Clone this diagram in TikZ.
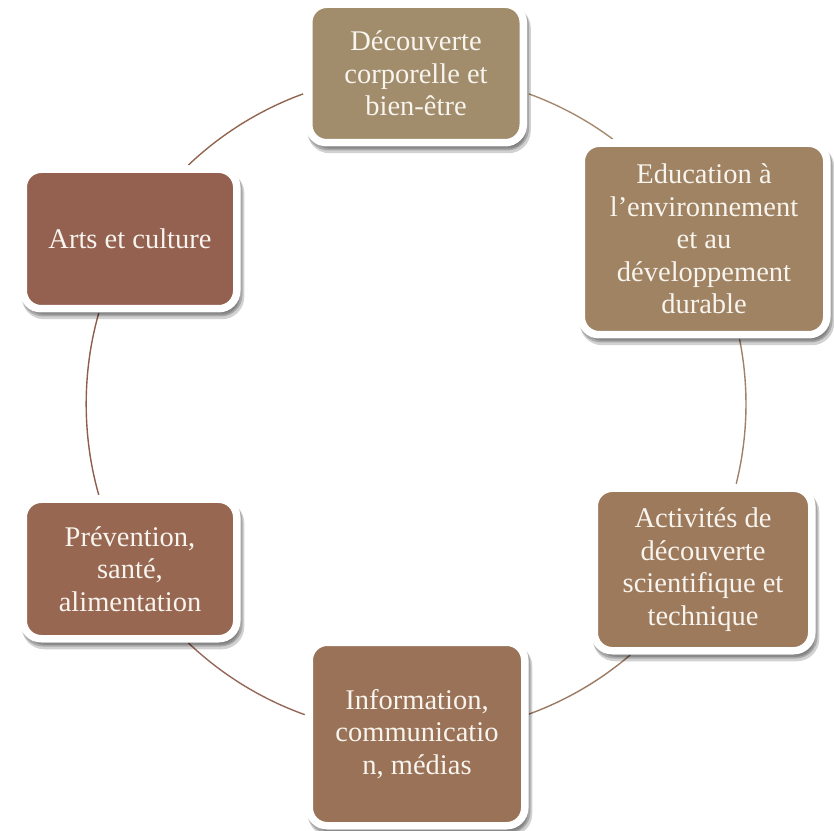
\documentclass[tikz,border=0pt]{standalone}
\usepackage{fontspec}
\setmainfont{Liberation Serif}
\usetikzlibrary{shadows,calc}
\definecolor{txt}{HTML}{F8F4EE}
\definecolor{cTop}{HTML}{A18C6B}
\definecolor{cEd}{HTML}{A08363}
\definecolor{cAct}{HTML}{9E7A5D}
\definecolor{cInfo}{HTML}{9A7257}
\definecolor{cPrev}{HTML}{976752}
\definecolor{cArts}{HTML}{94604F}
\definecolor{l1}{HTML}{A58A70}
\definecolor{l2}{HTML}{A0806A}
\definecolor{l3}{HTML}{9D7862}
\definecolor{l4}{HTML}{96685A}
\definecolor{l5}{HTML}{8E5D4E}
\definecolor{l6}{HTML}{93654F}
\begin{document}
\begin{tikzpicture}[x=1pt,y=1pt,
  box/.style={rectangle, rounded corners=18pt, draw=white, line width=7.5pt,
    inner sep=0pt, align=center, text=txt,
    font=\fontsize{28.5}{32.5}\selectfont,
    drop shadow={shadow xshift=3pt, shadow yshift=-6pt, opacity=0.18, fill=black, draw=black, line width=9pt},
    drop shadow={shadow xshift=2pt, shadow yshift=-4pt, opacity=0.2, fill=black, draw=black, line width=7.5pt}},
  conn/.style={line width=1.4pt, looseness=0.86}]
\useasboundingbox (0,0) rectangle (834,830);
\coordinate (C) at (416,426);
% circle/box intersection points
\coordinate (t1) at ($(C)+(70:330pt)$);
\coordinate (t2) at ($(C)+(110:330pt)$);
\coordinate (e1) at ($(C)+(53.4:330pt)$);
\coordinate (e2) at ($(C)+(11.4:330pt)$);
\coordinate (a1) at ($(C)+(-14:330pt)$);
\coordinate (a2) at ($(C)+(-49.5:330pt)$);
\coordinate (i1) at ($(C)+(-70:330pt)$);
\coordinate (i2) at ($(C)+(-109.7:330pt)$);
\coordinate (p1) at ($(C)+(-133.6:330pt)$);
\coordinate (p2) at ($(C)+(-164:330pt)$);
\coordinate (r1) at ($(C)+(164:330pt)$);
\coordinate (r2) at ($(C)+(133.6:330pt)$);
% connectors
\draw[conn, l1] (t1) to[bend left=8.3] (e1);
\draw[conn, l2] (e2) to[bend left=12.7] (a1);
\draw[conn, l3] (a2) to[bend left=10.25] (i1);
\draw[conn, l4] (i2) to[bend left=11.95] (p1);
\draw[conn, l5] (p2) to[bend left=16] (r1);
\draw[conn, l6] (r2) to[bend left=11.8] (t2);
% boxes
\node[box, fill=cTop, minimum width=214.5pt, minimum height=138.5pt] (top) at (416,756.5)
  {Découverte\\corporelle et\\bien-être};
\node[box, fill=cEd, minimum width=245.5pt, minimum height=191.5pt] (ed) at (704,591)
  {Education à\\l’environnement\\et au\\développement\\durable};
\node[box, fill=cAct, minimum width=217.5pt, minimum height=162.5pt] (act) at (703,260.5)
  {Activités de\\découverte\\scientifique et\\technique};
\node[box, fill=cInfo, minimum width=215.5pt, minimum height=183.5pt] (info) at (417,96)
  {Information,\\communicatio\\n, médias};
\node[box, fill=cPrev, minimum width=213.5pt, minimum height=139.5pt] (prev) at (130,261)
  {Prévention,\\santé,\\alimentation};
\node[box, fill=cArts, minimum width=213.5pt, minimum height=139.5pt] (arts) at (130,591)
  {Arts et culture};
\end{tikzpicture}
\end{document}
